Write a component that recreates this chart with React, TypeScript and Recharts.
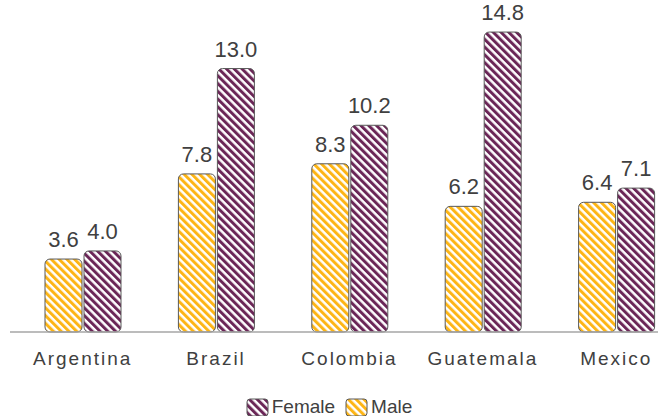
import React from "react";
import { Bar, BarChart, LabelList, XAxis, YAxis } from "recharts";

const countries = ["Argentina", "Brazil", "Colombia", "Guatemala", "Mexico"];
const maleValues = [3.6, 7.8, 8.3, 6.2, 6.4];
const femaleValues = [4.0, 13.0, 10.2, 14.8, 7.1];

const rows = countries.map((country, i) => ({
  country,
  male: maleValues[i],
  female: femaleValues[i],
}));

const ORANGE = "#FDB515";
const PURPLE = "#6B2657";
const EDGE = "#595959";
const TEXT = "#404040";
const FONT = "'Liberation Sans', Arial, sans-serif";

const stripe = (id: string, color: string) => (
  <pattern
    id={id}
    width={5.5}
    height={5.5}
    patternUnits="userSpaceOnUse"
    patternTransform="rotate(-45)"
  >
    <rect width={5.5} height={5.5} fill="#ffffff" />
    <rect width={3} height={5.5} fill={color} />
  </pattern>
);

const legendItems = [
  { name: "Female", id: "legFemale", color: PURPLE, gap: 10 },
  { name: "Male", id: "legMale", color: ORANGE, gap: 0 },
];

// legend kept outside the chart so it doesn't eat plot height
const ChartLegend = () => (
  <div
    style={{
      position: "absolute",
      top: 396,
      left: 0,
      width: 658,
      display: "flex",
      justifyContent: "center",
      alignItems: "center",
      fontFamily: FONT,
      fontSize: 19,
      color: TEXT,
    }}
  >
    {legendItems.map((item) => (
      <span
        key={item.name}
        style={{ display: "flex", alignItems: "center", marginRight: item.gap }}
      >
        <svg width={23} height={19} style={{ marginRight: 3 }}>
          <defs>{stripe(item.id, item.color)}</defs>
          <rect
            x={1}
            y={1}
            width={21}
            height={17}
            rx={3}
            fill={`url(#${item.id})`}
            stroke={EDGE}
            strokeWidth={1}
          />
        </svg>
        <span>{item.name}</span>
      </span>
    ))}
  </div>
);

const fmt = (v: number) => v.toFixed(1);

export default function App() {
  return (
    <div
      style={{
        position: "absolute",
        left: 0,
        top: 0,
        width: 658,
        height: 416,
        overflow: "hidden",
        background: "#ffffff",
      }}
    >
      <BarChart
        width={700}
        height={416}
        data={rows}
        margin={{ top: 28, right: 11, left: 10, bottom: 54 }}
        barSize={37}
        barGap={2}
        style={{ fontFamily: FONT }}
      >
        <defs>
          {stripe("stripeMale", ORANGE)}
          {stripe("stripeFemale", PURPLE)}
        </defs>
        <XAxis
          dataKey="country"
          height={30}
          padding={{ left: 6, right: 6 }}
          axisLine={{ stroke: "#a6a6a6", strokeWidth: 1.5 }}
          tickLine={false}
          tick={{ fontSize: 19, fill: TEXT, letterSpacing: 2 }}
          tickMargin={14}
          interval={0}
        />
        <YAxis hide domain={[0, 15]} />
        <Bar
          dataKey="male"
          name="Male"
          fill="url(#stripeMale)"
          stroke={EDGE}
          strokeWidth={1}
          radius={5}
          isAnimationActive={false}
        >
          <LabelList
            dataKey="male"
            position="top"
            offset={12}
            formatter={fmt}
            style={{ fontSize: 22, fill: TEXT }}
          />
        </Bar>
        <Bar
          dataKey="female"
          name="Female"
          fill="url(#stripeFemale)"
          stroke={EDGE}
          strokeWidth={1}
          radius={5}
          isAnimationActive={false}
        >
          <LabelList
            dataKey="female"
            position="top"
            offset={12}
            formatter={fmt}
            style={{ fontSize: 22, fill: TEXT }}
          />
        </Bar>
      </BarChart>
      <ChartLegend />
    </div>
  );
}
